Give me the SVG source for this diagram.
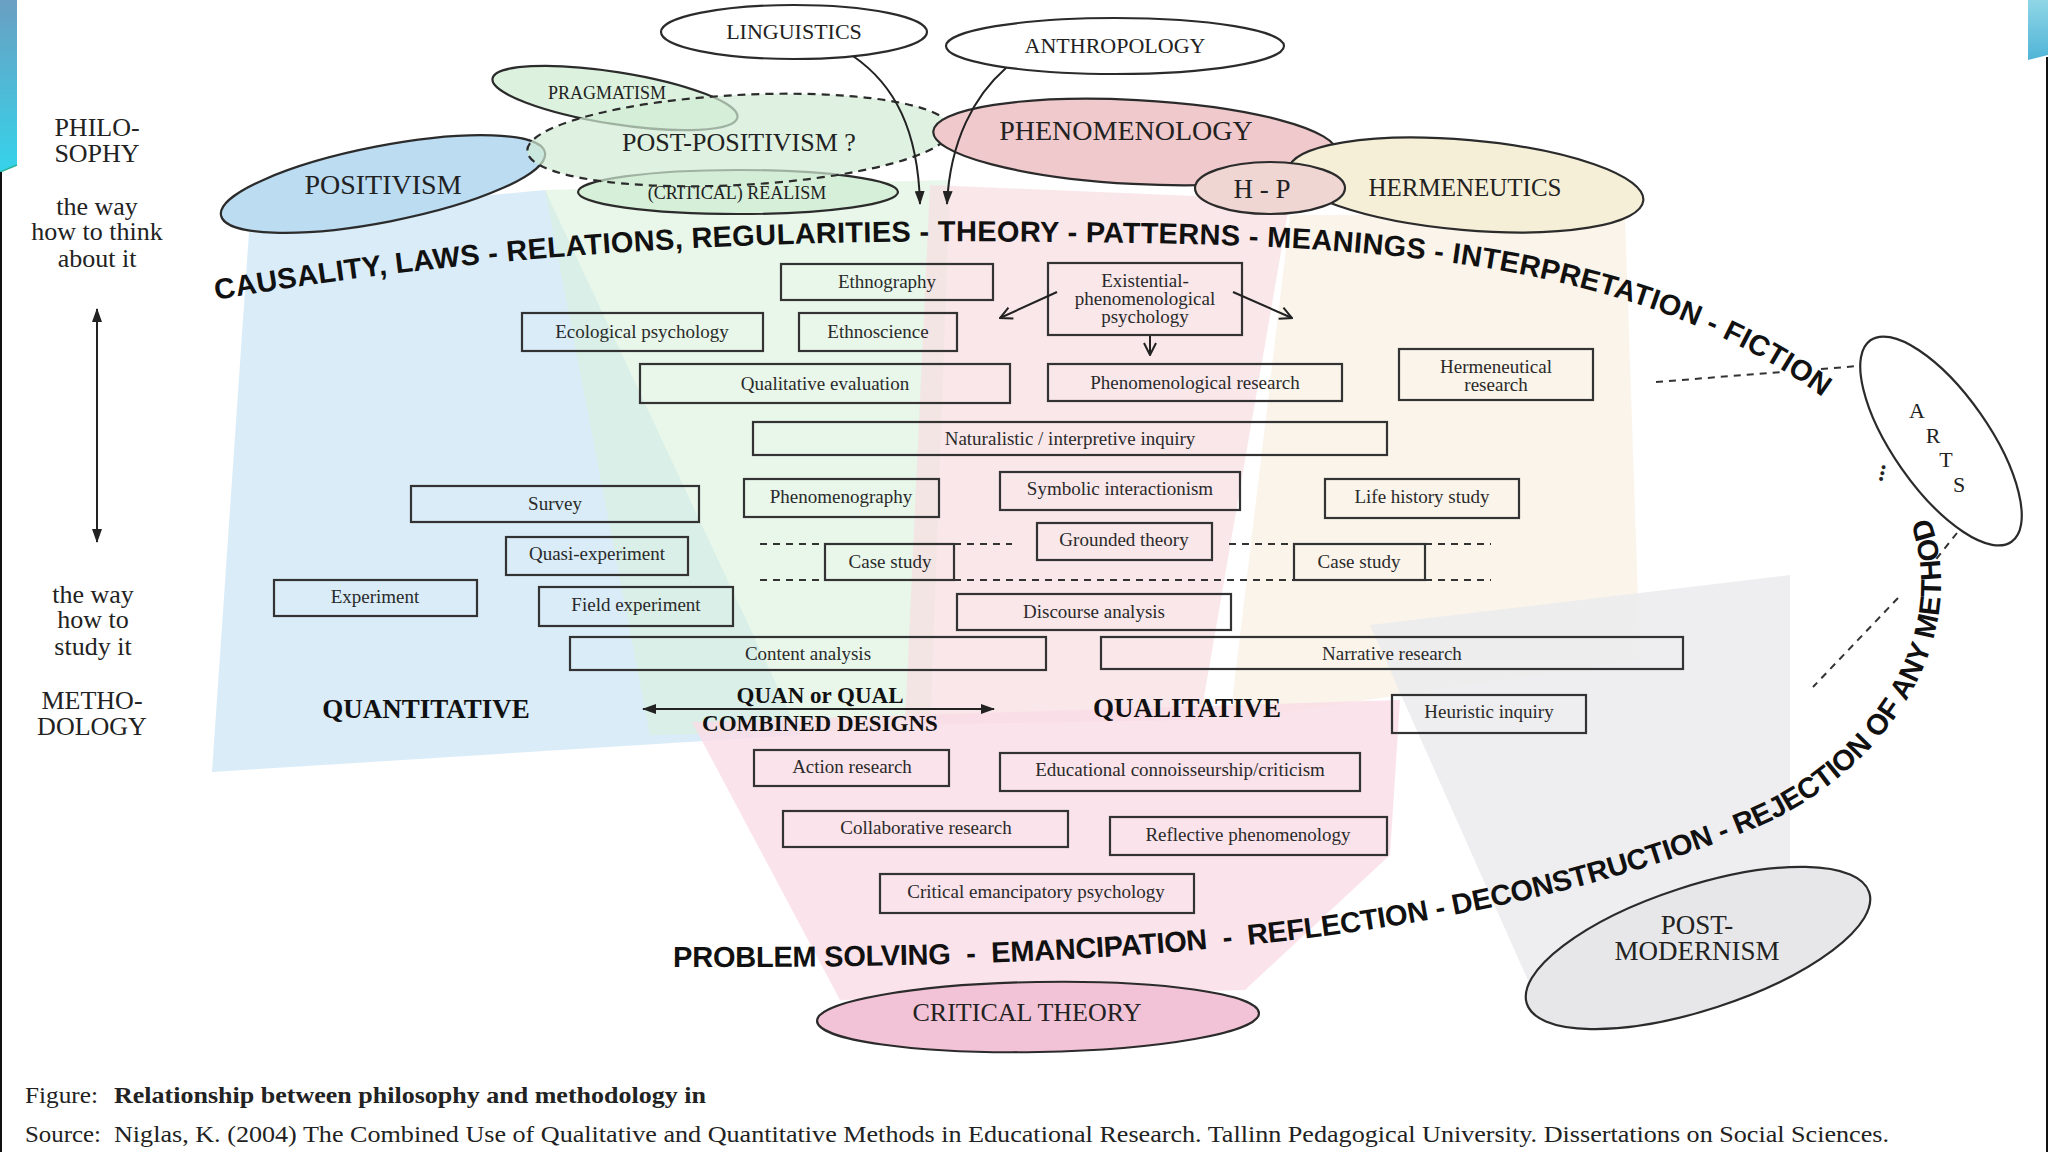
<svg xmlns="http://www.w3.org/2000/svg" width="2048" height="1152" viewBox="0 0 2048 1152">
<defs>
<style>
.serif{font-family:"Liberation Serif","Times New Roman",serif;fill:#222;}
.box{fill:none;stroke:#333;stroke-width:2.2;}
.bt{font-family:"Liberation Serif","Times New Roman",serif;font-size:19px;fill:#2a2a2a;text-anchor:middle;}
.el{stroke:#2b2b2b;stroke-width:2.2;}
.et{font-family:"Liberation Serif","Times New Roman",serif;fill:#222;text-anchor:middle;}
.lt{font-family:"Liberation Serif","Times New Roman",serif;fill:#222;text-anchor:middle;font-size:26px;}
.big{font-family:"Liberation Serif","Times New Roman",serif;fill:#111;text-anchor:middle;font-weight:bold;}
.dash{stroke:#333;stroke-width:2;stroke-dasharray:7 6;fill:none;}
.conn{stroke:#222;stroke-width:2;fill:none;}
.arc{font-family:"Liberation Sans",Arial,sans-serif;fill:#111;font-size:29px;font-weight:bold;}
.wedge{stroke:none;}
</style>
<marker id="fa" viewBox="0 0 14 10" refX="13" refY="5" markerWidth="14" markerHeight="10" markerUnits="userSpaceOnUse" orient="auto-start-reverse"><path d="M0,0 L14,5 L0,10 z" fill="#222"/></marker>
<marker id="oa" viewBox="0 0 14 14" refX="13" refY="7" markerWidth="14" markerHeight="14" markerUnits="userSpaceOnUse" orient="auto"><path d="M1,1 L13,7 L1,13" fill="none" stroke="#222" stroke-width="2"/></marker>
<linearGradient id="gl" x1="0" y1="0" x2="0" y2="1"><stop offset="0" stop-color="#6a9fc2"/><stop offset="1" stop-color="#35d3ea"/></linearGradient>
<linearGradient id="gr" x1="0" y1="0" x2="0" y2="1"><stop offset="0" stop-color="#8fd6e6"/><stop offset="1" stop-color="#4fb4d6"/></linearGradient>
<path id="arcTop" d="M 216 300 C 500 250, 800 238, 1050 242 C 1400 244, 1650 262, 1840 410 L 1900 458"/>
<path id="arcBot" d="M 673 967 C 1100 968, 1450 950, 1750 830 C 1875 780, 1975 650, 1930 518 L 1915 474"/>
</defs>
<rect x="0" y="0" width="2048" height="1152" fill="#ffffff"/>
<g id="slide-decor">
<polygon points="0,0 17,0 17,165 0,172" fill="url(#gl)"/>
<line x1="0" y1="172" x2="17" y2="165" stroke="#2bb39a" stroke-width="1.5"/>
<line x1="1" y1="172" x2="1" y2="1152" stroke="#111" stroke-width="2"/>
<polygon points="2028,0 2048,0 2048,55 2028,60" fill="url(#gr)"/>
<line x1="2047" y1="57" x2="2047" y2="1152" stroke="#111" stroke-width="2"/>
</g>
<g id="background-fans">
<polygon class="wedge" points="250,218 545,190 800,735 212,772" fill="#d2e9f7" fill-opacity="0.85"/>
<polygon class="wedge" points="545,190 950,180 930,730 650,735" fill="#d9f1dc" fill-opacity="0.6"/>
<polygon class="wedge" points="930,185 1290,200 1200,720 905,725" fill="#f6dde1" fill-opacity="0.7"/>
<polygon class="wedge" points="1290,215 1625,215 1640,660 1230,720" fill="#f9f2e6" fill-opacity="0.85"/>
<polygon class="wedge" points="1370,625 1790,575 1790,880 1530,985" fill="#ececee" fill-opacity="0.9"/>
<polygon class="wedge" points="692,722 1400,700 1390,855 1245,990 840,1000" fill="#fadce6" fill-opacity="0.8"/>
</g>
<g id="node-linguistics"><ellipse class="el" cx="794" cy="32" rx="133" ry="27" fill="#ffffff"/><text class="et" x="794" y="39" font-size="22">LINGUISTICS</text></g>
<g id="node-anthropology"><ellipse class="el" cx="1115" cy="46" rx="169" ry="28" fill="#ffffff"/><text class="et" x="1115" y="53" font-size="22">ANTHROPOLOGY</text></g>
<g id="node-positivism"><ellipse class="el" cx="383" cy="184" rx="165" ry="38" transform="rotate(-11 383 184)" fill="#bcdcf2"/><text class="et" x="383" y="194" font-size="28">POSITIVISM</text></g>
<g id="node-pragmatism"><ellipse class="el" cx="615" cy="98" rx="124" ry="26" transform="rotate(9 615 98)" fill="#dcf1de"/><text class="et" x="607" y="99" font-size="18">PRAGMATISM</text></g>
<g id="node-realism"><ellipse class="el" cx="738" cy="192" rx="160" ry="22" fill="#d6efd8"/><text class="et" x="737" y="199" font-size="18">(CRITICAL) REALISM</text></g>
<g id="node-postpositivism"><ellipse class="el" cx="739" cy="140" rx="212" ry="45" transform="rotate(-3 739 140)" fill="#d2edd5" fill-opacity="0.7" stroke-dasharray="8 6"/><text class="et" x="739" y="151" font-size="26">POST-POSITIVISM ?</text></g>
<g id="node-phenomenology"><ellipse class="el" cx="1135" cy="142" rx="202" ry="42" transform="rotate(3 1135 142)" fill="#efc9cb"/><text class="et" x="1126" y="140" font-size="28">PHENOMENOLOGY</text></g>
<g id="node-hermeneutics"><ellipse class="el" cx="1466" cy="185" rx="178" ry="45" transform="rotate(5 1466 185)" fill="#f6efd8"/><text class="et" x="1465" y="196" font-size="25">HERMENEUTICS</text></g>
<g id="node-hp"><ellipse class="el" cx="1270" cy="188" rx="75" ry="26" fill="#efd6d2"/><text class="et" x="1262" y="198" font-size="27">H - P</text></g>
<g id="node-arts"><ellipse class="el" cx="1941" cy="441" rx="123" ry="48" transform="rotate(55 1941 441)" fill="#ffffff"/>
<text class="et" x="1917" y="418" font-size="22">A</text><text class="et" x="1933" y="443" font-size="22">R</text><text class="et" x="1946" y="467" font-size="22">T</text><text class="et" x="1959" y="492" font-size="22">S</text></g>
<g id="node-critical-theory"><ellipse class="el" cx="1038" cy="1017" rx="221" ry="35" transform="rotate(-1 1038 1017)" fill="#f2c3d6"/><text class="et" x="1027" y="1021" font-size="26">CRITICAL THEORY</text></g>
<g id="node-postmodernism"><ellipse class="el" cx="1698" cy="948" rx="180" ry="62" transform="rotate(-18 1698 948)" fill="#e7e7e9"/><text class="et" x="1697" y="934" font-size="27">POST-</text><text class="et" x="1697" y="960" font-size="27">MODERNISM</text></g>

<g id="node-ethnography"><rect class="box" x="781" y="264" width="212" height="36"/><text class="bt" x="887" y="288">Ethnography</text></g>
<g id="node-existential"><rect class="box" x="1048" y="263" width="194" height="72"/><text class="bt" x="1145" y="287" font-size="18.5">Existential-</text><text class="bt" x="1145" y="305" font-size="18.5">phenomenological</text><text class="bt" x="1145" y="323" font-size="18.5">psychology</text></g>
<g id="node-ecological"><rect class="box" x="522" y="313" width="241" height="38"/><text class="bt" x="642" y="338">Ecological psychology</text></g>
<g id="node-ethnoscience"><rect class="box" x="799" y="313" width="158" height="38"/><text class="bt" x="878" y="338">Ethnoscience</text></g>
<g id="node-qualeval"><rect class="box" x="640" y="364" width="370" height="39"/><text class="bt" x="825" y="390">Qualitative evaluation</text></g>
<g id="node-phenresearch"><rect class="box" x="1048" y="364" width="294" height="37"/><text class="bt" x="1195" y="389">Phenomenological research</text></g>
<g id="node-hermresearch"><rect class="box" x="1399" y="349" width="194" height="51"/><text class="bt" x="1496" y="373">Hermeneutical</text><text class="bt" x="1496" y="391">research</text></g>
<g id="node-naturalistic"><rect class="box" x="753" y="422" width="634" height="33"/><text class="bt" x="1070" y="445">Naturalistic / interpretive inquiry</text></g>
<g id="node-survey"><rect class="box" x="411" y="486" width="288" height="36"/><text class="bt" x="555" y="510">Survey</text></g>
<g id="node-phenomenography"><rect class="box" x="744" y="479" width="195" height="38"/><text class="bt" x="841" y="503">Phenomenography</text></g>
<g id="node-symbolic"><rect class="box" x="1000" y="472" width="240" height="38"/><text class="bt" x="1120" y="495">Symbolic interactionism</text></g>
<g id="node-lifehistory"><rect class="box" x="1325" y="479" width="194" height="39"/><text class="bt" x="1422" y="503">Life history study</text></g>
<g id="node-quasi"><rect class="box" x="506" y="537" width="182" height="38"/><text class="bt" x="597" y="560">Quasi-experiment</text></g>
<g id="node-grounded"><rect class="box" x="1037" y="523" width="175" height="37"/><text class="bt" x="1124" y="546">Grounded theory</text></g>
<g id="node-casestudy-left"><rect class="box" x="825" y="544" width="129" height="36"/><text class="bt" x="890" y="568">Case study</text></g>
<g id="node-casestudy-right"><rect class="box" x="1294" y="544" width="131" height="36"/><text class="bt" x="1359" y="568">Case study</text></g>
<g id="node-experiment"><rect class="box" x="274" y="580" width="203" height="36"/><text class="bt" x="375" y="603">Experiment</text></g>
<g id="node-fieldexp"><rect class="box" x="539" y="587" width="194" height="39"/><text class="bt" x="636" y="611">Field experiment</text></g>
<g id="node-discourse"><rect class="box" x="957" y="594" width="274" height="36"/><text class="bt" x="1094" y="618">Discourse analysis</text></g>
<g id="node-content"><rect class="box" x="570" y="637" width="476" height="33"/><text class="bt" x="808" y="660">Content analysis</text></g>
<g id="node-narrative"><rect class="box" x="1101" y="637" width="582" height="32"/><text class="bt" x="1392" y="660">Narrative research</text></g>
<g id="node-heuristic"><rect class="box" x="1392" y="695" width="194" height="38"/><text class="bt" x="1489" y="718">Heuristic inquiry</text></g>
<g id="node-action"><rect class="box" x="754" y="750" width="195" height="36"/><text class="bt" x="852" y="773">Action research</text></g>
<g id="node-educational"><rect class="box" x="1000" y="753" width="360" height="38"/><text class="bt" x="1180" y="776">Educational connoisseurship/criticism</text></g>
<g id="node-collaborative"><rect class="box" x="783" y="811" width="285" height="36"/><text class="bt" x="926" y="834">Collaborative research</text></g>
<g id="node-reflective"><rect class="box" x="1110" y="817" width="277" height="38"/><text class="bt" x="1248" y="841">Reflective phenomenology</text></g>
<g id="node-critemanc"><rect class="box" x="880" y="874" width="314" height="39"/><text class="bt" x="1036" y="898">Critical emancipatory psychology</text></g>

<g id="labels">
<text class="big" x="426" y="718" font-size="27">QUANTITATIVE</text>
<text class="big" x="1187" y="717" font-size="27">QUALITATIVE</text>
<text class="big" x="820" y="703" font-size="23">QUAN or QUAL</text>
<text class="big" x="820" y="731" font-size="23">COMBINED DESIGNS</text>
<text class="arc" letter-spacing="0.3"><textPath href="#arcTop">CAUSALITY, LAWS - RELATIONS, REGULARITIES - THEORY - PATTERNS - MEANINGS - INTERPRETATION - FICTION</textPath></text>
<text class="arc" font-size="27" letter-spacing="-0.25" style="white-space:pre"><textPath href="#arcBot">PROBLEM SOLVING  -  EMANCIPATION  -  REFLECTION - DECONSTRUCTION - REJECTION OF ANY METHOD</textPath></text>
<text class="et" x="1877" y="479" font-size="24" font-weight="bold" transform="rotate(-78 1877 472)">...</text>
</g>

<g id="left-column">
<text class="lt" x="97" y="136" font-size="27">PHILO-</text>
<text class="lt" x="97" y="162" font-size="27">SOPHY</text>
<text class="lt" x="97" y="215">the way</text>
<text class="lt" x="97" y="240">how to think</text>
<text class="lt" x="97" y="267">about it</text>
<text class="lt" x="93" y="603">the way</text>
<text class="lt" x="93" y="628">how to</text>
<text class="lt" x="93" y="655">study it</text>
<text class="lt" x="92" y="709" font-size="27">METHO-</text>
<text class="lt" x="92" y="735" font-size="27">DOLOGY</text>
</g>

<g id="connectors">
<path class="conn" d="M 853 56 C 895 85, 918 130, 920 204" marker-end="url(#fa)"/>
<path class="conn" d="M 1006 68 C 975 95, 950 140, 947 204" marker-end="url(#fa)"/>
<path class="conn" d="M 1057 292 L 1000 318" marker-end="url(#oa)"/>
<path class="conn" d="M 1233 292 L 1292 318" marker-end="url(#oa)"/>
<path class="conn" d="M 1150 336 L 1150 355" marker-end="url(#oa)"/>
<path class="conn" d="M 97 309 L 97 542" marker-start="url(#fa)" marker-end="url(#fa)"/>
<path class="conn" d="M 643 709 L 994 709" marker-start="url(#fa)" marker-end="url(#fa)"/>
<path class="dash" d="M 760 544 L 825 544 M 954 544 L 1012 544 M 1229 544 L 1294 544 M 1425 544 L 1491 544"/>
<path class="dash" d="M 760 580 L 825 580 M 954 580 L 1294 580 M 1425 580 L 1491 580"/>
<path class="dash" d="M 1656 382 L 1782 372 M 1821 369 L 1858 366"/>
<path class="dash" d="M 1957 533 L 1933 563 M 1898 598 L 1813 687"/>
</g>

<g id="caption">
<text class="serif" x="25" y="1103" font-size="23" textLength="73" lengthAdjust="spacingAndGlyphs">Figure:</text>
<text class="serif" x="114" y="1103" font-size="23" font-weight="bold" textLength="592" lengthAdjust="spacingAndGlyphs">Relationship between philosophy and methodology in</text>
<text class="serif" x="25" y="1142" font-size="23" textLength="76" lengthAdjust="spacingAndGlyphs">Source:</text>
<text class="serif" x="114" y="1142" font-size="23" textLength="1775" lengthAdjust="spacingAndGlyphs">Niglas, K. (2004) The Combined Use of Qualitative and Quantitative Methods in Educational Research. Tallinn Pedagogical University. Dissertations on Social Sciences.</text>
</g>
</svg>
